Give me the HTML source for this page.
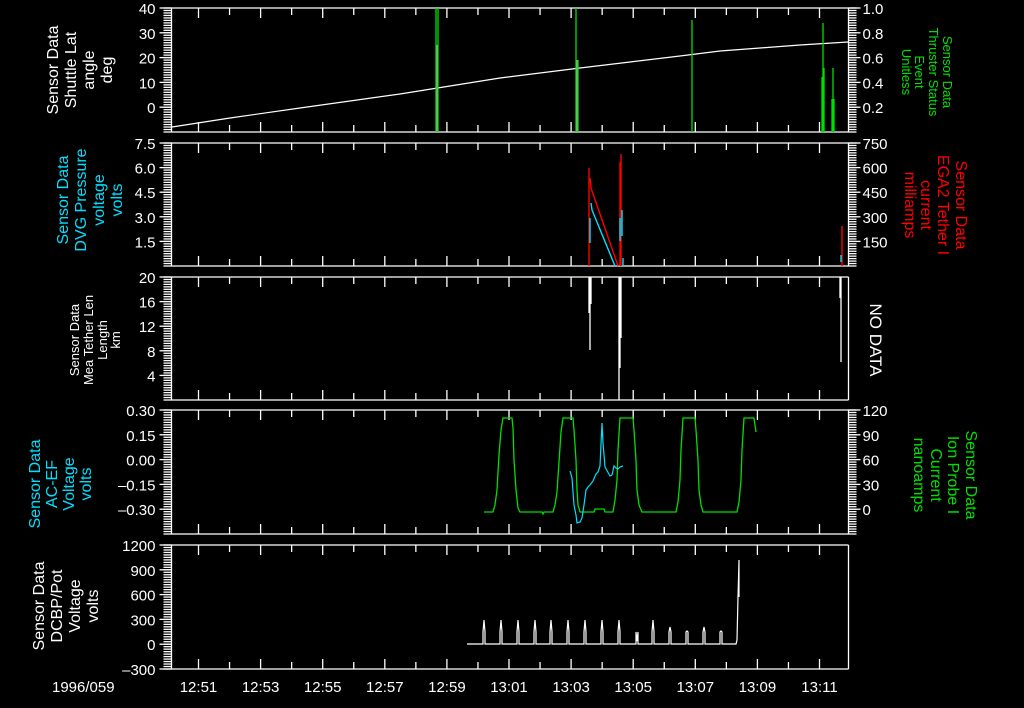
<!DOCTYPE html>
<html><head><meta charset="utf-8"><style>
html,body{margin:0;padding:0;background:#000;width:1024px;height:708px;overflow:hidden}
svg{display:block}
text{font-family:"Liberation Sans",sans-serif}
</style></head><body>
<svg id="s" width="1024" height="708" viewBox="0 0 1024 708" xmlns="http://www.w3.org/2000/svg">
<g id="ax" stroke="#fff" stroke-width="1.3" fill="none"></g>
<g id="tx" fill="#fff" font-size="15"></g>
<!-- panel 1 data -->
<polyline points="172,127 230,118 300,108 350,101 400,94 450,86 500,78 540,73 580,68 630,62 680,56 720,51 760,48 800,45 848,42" stroke="#fff" stroke-width="1.2" fill="none"/>
<g stroke="#00e000" stroke-width="1.3">
<line x1="436" y1="132" x2="436" y2="8"/><line x1="438" y1="132" x2="438" y2="8"/>
<line x1="576" y1="132" x2="576" y2="8"/><line x1="578" y1="132" x2="578" y2="60"/>
<line x1="692" y1="132" x2="692" y2="20"/>
<line x1="822" y1="132" x2="822" y2="77"/><line x1="823" y1="132" x2="823" y2="23"/><line x1="824" y1="132" x2="824" y2="68"/>
<line x1="832" y1="132" x2="832" y2="99"/><line x1="833" y1="132" x2="833" y2="68"/><line x1="834" y1="132" x2="834" y2="99"/>
</g>
<g stroke="#aaa" stroke-width="1"><line x1="437" y1="132" x2="437" y2="45"/><line x1="577" y1="132" x2="577" y2="60"/></g>
<!-- panel 2 -->
<g stroke="#ff0000" stroke-width="1.4" fill="none">
<line x1="589" y1="266" x2="589" y2="168"/>
<polyline points="590,178 591,188 618,266"/>
<line x1="620" y1="266" x2="620" y2="162"/><line x1="621" y1="266" x2="621" y2="154"/>
<line x1="842" y1="266" x2="842" y2="226"/>
</g>
<g stroke="#00e0ff" stroke-width="1.4" fill="none">
<line x1="590" y1="218" x2="590" y2="243"/>
<polyline points="591,203 592,210 615,266"/>
<line x1="620" y1="218" x2="620" y2="241"/><line x1="622" y1="210" x2="622" y2="236"/>
<line x1="623" y1="258" x2="623" y2="266"/>
<line x1="841" y1="255" x2="841" y2="262"/>
</g>
<!-- panel 3 -->
<g stroke="#fff" stroke-width="1.3">
<line x1="589" y1="277" x2="589" y2="313"/><line x1="590" y1="277" x2="590" y2="350"/><line x1="591" y1="277" x2="591" y2="304"/>
<line x1="619" y1="277" x2="619" y2="400"/><line x1="620" y1="277" x2="620" y2="368"/><line x1="621" y1="277" x2="621" y2="338"/>
<line x1="840" y1="277" x2="840" y2="298"/><line x1="841" y1="277" x2="841" y2="362"/>
</g>
<!-- panel 4 -->
<polyline stroke="#00e000" stroke-width="1.3" fill="none" points="484,512 493,512 495,505 497,490 499,455 501,430 503,418 512,418 513,428 514,460 516,490 518,508 520,512 542,512 543,514 544,512 553,512 555,505 557,492 559,462 561,432 563,418 573,418 574,430 576,460 577,490 578,505 580,512 594,512 595,509 604,509 605,512 613,512 615,500 617,480 618,450 620,418 633,418 634,430 636,460 637,490 639,505 642,512 676,512 678,502 680,480 681,450 683,418 695,418 696,430 698,460 699,490 701,505 703,512 737,512 739,502 741,480 742,450 744,418 754,418 756,432"/>
<polyline stroke="#00e0ff" stroke-width="1.2" fill="none" points="570,471 572,478 574,505 576,515 577,523 580,522 582,518 584,505 586,490 588,487 590,485 593,481 596,474 598,472 600,466 601,444 602,423 603,443 605,467 610,476 612,475 614,466 616,468 618,469 620,467 623,466"/>
<!-- panel 5 -->
<polyline id="p5" stroke="#fff" stroke-width="1.2" fill="none" points=""/>
<!-- labels -->
<g font-size="16" text-anchor="middle">
<text transform="translate(58,70) rotate(-90)" fill="#fff">Sensor Data</text>
<text transform="translate(76,70) rotate(-90)" fill="#fff">Shuttle Lat</text>
<text transform="translate(94,70) rotate(-90)" fill="#fff">angle</text>
<text transform="translate(112,70) rotate(-90)" fill="#fff">deg</text>
<text transform="translate(68,200) rotate(-90)" fill="#00e0ff">Sensor Data</text>
<text transform="translate(86,200) rotate(-90)" fill="#00e0ff">DVG Pressure</text>
<text transform="translate(104,200) rotate(-90)" fill="#00e0ff">voltage</text>
<text transform="translate(122,200) rotate(-90)" fill="#00e0ff">volts</text>
<text transform="translate(40,484) rotate(-90)" fill="#00e0ff">Sensor Data</text>
<text transform="translate(57,484) rotate(-90)" fill="#00e0ff">AC-EF</text>
<text transform="translate(74,484) rotate(-90)" fill="#00e0ff">Voltage</text>
<text transform="translate(91,484) rotate(-90)" fill="#00e0ff">volts</text>
<text transform="translate(44,606) rotate(-90)" fill="#fff">Sensor Data</text>
<text transform="translate(62,606) rotate(-90)" fill="#fff">DCBP/Pot</text>
<text transform="translate(80,606) rotate(-90)" fill="#fff">Voltage</text>
<text transform="translate(98,606) rotate(-90)" fill="#fff">volts</text>
<text transform="translate(956,205) rotate(90)" fill="#ff0000">Sensor Data</text>
<text transform="translate(938,205) rotate(90)" fill="#ff0000">EGA2 Tether I</text>
<text transform="translate(921,205) rotate(90)" fill="#ff0000">current</text>
<text transform="translate(905,205) rotate(90)" fill="#ff0000">milliamps</text>
<text transform="translate(966,475) rotate(90)" fill="#00e000">Sensor Data</text>
<text transform="translate(948,475) rotate(90)" fill="#00e000">Ion Probe I</text>
<text transform="translate(931,475) rotate(90)" fill="#00e000">Current</text>
<text transform="translate(914,475) rotate(90)" fill="#00e000">nanoamps</text>
<text transform="translate(870,340) rotate(90)" fill="#fff" font-size="17">NO DATA</text>
</g>
<g font-size="13" text-anchor="middle">
<text transform="translate(79,340) rotate(-90)" fill="#fff">Sensor Data</text>
<text transform="translate(93,340) rotate(-90)" fill="#fff">Mea Tether Len</text>
<text transform="translate(107,340) rotate(-90)" fill="#fff">Length</text>
<text transform="translate(120,340) rotate(-90)" fill="#fff">km</text>
<text transform="translate(943,72) rotate(90)" fill="#00e000">Sensor Data</text>
<text transform="translate(929,72) rotate(90)" fill="#00e000">Thruster Status</text>
<text transform="translate(915,72) rotate(90)" fill="#00e000">Event</text>
<text transform="translate(902,72) rotate(90)" fill="#00e000">Unitless</text>
</g>
</svg>
<script>
var NS="http://www.w3.org/2000/svg",ax=document.getElementById('ax'),tx=document.getElementById('tx');
function L(x1,y1,x2,y2){var e=document.createElementNS(NS,'line');e.setAttribute('x1',x1);e.setAttribute('y1',y1);e.setAttribute('x2',x2);e.setAttribute('y2',y2);ax.appendChild(e);}
function T(x,y,s,a){var e=document.createElementNS(NS,'text');e.setAttribute('x',x);e.setAttribute('y',y);if(a)e.setAttribute('text-anchor',a);e.textContent=s;tx.appendChild(e);}
var X0=171.5,X1=848.5;
var P=[[8,132],[143,266],[277,400],[410,534],[545,669]];
function tx0(m){return 198.5+m*31.05;}
P.forEach(function(p,i){
 var t=p[0],b=p[1];
 L(X0,t,X1,t);L(X0,b,X1,b);L(X0,t,X0,b);L(X1,t,X1,b);
 for(var m=0;m<=20;m++){var x=tx0(m);if(x>X1-1)break;var h=(m%2==0)?10:7;L(x,t,x,t+h);L(x,b,x,b-h);}
});
function yaxis(t,b,min,max,step,minor,labels,dec,right){
 var f=function(v){return b-(v-min)/(max-min)*(b-t);};
 for(var v=min;v<=max+1e-9;v+=minor){var y=f(v);if(right)L(X1,y,X1+8,y);else L(X0-8,y,X0,y);}
 labels.forEach(function(v){var y=f(v);if(right){L(X1,y,X1+12,y);T(X1+14,y+6,v.toFixed(dec));}else{L(X0-12,y,X0,y);T(X0-16,y+6,v.toFixed(dec).replace('-','\u2013'),'end');}});
}
yaxis(8,132,-10,40,10,1,[0,10,20,30,40],0,false);
yaxis(8,132,0,1,0.2,0.02,[0.2,0.4,0.6,0.8,1.0],1,true);
yaxis(143,266,0,7.5,1.5,0.15,[1.5,3,4.5,6,7.5],1,false);
yaxis(143,266,0,750,150,15,[150,300,450,600,750],0,true);
yaxis(277,400,0,20,4,0.4,[4,8,12,16,20],0,false);
yaxis(410,534,-0.45,0.30,0.15,0.015,[-0.30,-0.15,0,0.15,0.30],2,false);
yaxis(410,534,-30,120,30,3,[0,30,60,90,120],0,true);
yaxis(545,669,-300,1200,300,30,[-300,0,300,600,900,1200],0,false);
var labs=['12:51','12:53','12:55','12:57','12:59','13:01','13:03','13:05','13:07','13:09','13:11'];
labs.forEach(function(s,k){T(tx0(2*k),692,s,'middle');});
T(52,692,'1996/059');
// panel 5
var pts=[[467,644]],sp=[484,501,518,535,551,568,585,602,619,637,653,670,687,704,721];
sp.forEach(function(x,k){var top=(k==9)?641:(k>=11?631-(k%2)*4:620);pts.push([x-1,644],[x-1,632],[x,top],[x+1,632],[x+1,644]);});
pts.push([736,644],[737,640],[738,597],[739,560],[739,597]);
document.getElementById('p5').setAttribute('points',pts.map(function(p){return p.join(',')}).join(' '));
</script>
</body></html>
